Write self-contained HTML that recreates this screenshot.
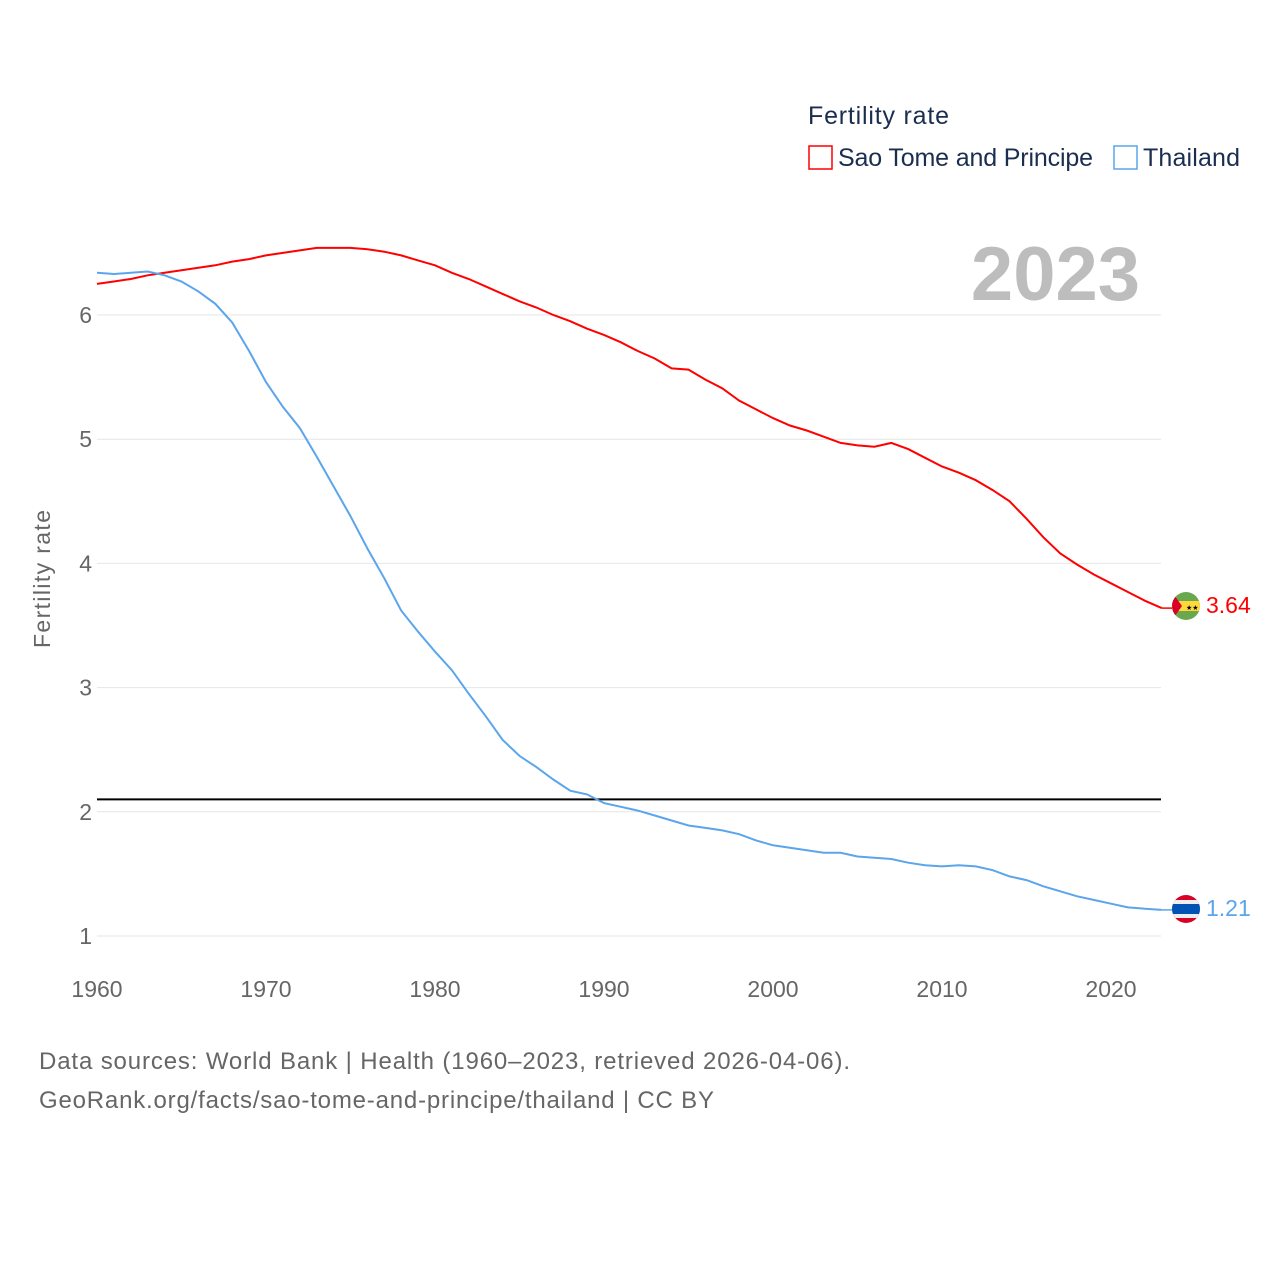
<!DOCTYPE html>
<html><head><meta charset="utf-8">
<style>
body{margin:0;background:#fff;font-family:"Liberation Sans",sans-serif;}
svg text{font-family:"Liberation Sans",sans-serif;}
</style></head>
<body>
<svg id="chart" width="1280" height="1280" viewBox="0 0 1280 1280" xmlns="http://www.w3.org/2000/svg">
<defs>
<clipPath id="c1"><circle cx="1186" cy="606" r="14"/></clipPath>
<clipPath id="c2"><circle cx="1186" cy="909" r="14"/></clipPath>
</defs>
<text x="808" y="124" font-size="25" fill="#1a2e4f" textLength="141">Fertility rate</text>
<g>
<rect x="809" y="146" width="23" height="23" fill="none" stroke="#f00" stroke-width="1.5"/>
<text x="838" y="166" font-size="25" fill="#1a2e4f" textLength="255">Sao Tome and Principe</text></g>
<g>
<rect x="1114" y="146" width="23" height="23" fill="none" stroke="#5aa5ec" stroke-width="1.5"/>
<text x="1143" y="166" font-size="25" fill="#1a2e4f" textLength="97">Thailand</text></g>
<text x="1140" y="300" font-size="76" font-weight="bold" fill="#bdbdbd" text-anchor="end">2023</text>
<text transform="translate(50,579) rotate(-90)" font-size="23" fill="#666" text-anchor="middle" textLength="138">Fertility rate</text>
<g id="grid"></g><g id="series"></g>
<g clip-path="url(#c1)">
<rect x="1172" y="592" width="28" height="28" fill="#6aa84f"/>
<rect x="1172" y="601" width="28" height="10" fill="#ffd93b"/>
<polygon points="1172,592 1182,606 1172,620" fill="#d80027"/>
<text x="1186" y="610" font-size="7">★★</text></g>
<g clip-path="url(#c2)">
<rect x="1172" y="895" width="28" height="28" fill="#d80027"/>
<rect x="1172" y="900" width="28" height="18" fill="#eee"/>
<rect x="1172" y="904" width="28" height="10" fill="#0052b4"/></g>
<text x="1206" y="613" font-size="23" fill="#f00">3.64</text>
<text x="1206" y="916" font-size="23" fill="#5aa5ec">1.21</text>
<text x="39" y="1069" font-size="24" fill="#666" textLength="811">Data sources: World Bank | Health (1960–2023, retrieved 2026-04-06).</text>
<text x="39" y="1108" font-size="24" fill="#666" textLength="675">GeoRank.org/facts/sao-tome-and-principe/thailand | CC BY</text>
</svg>
<script>
const years=[];for(let y=1960;y<=2023;y++)years.push(y);
const saoTome=[6.25,6.27,6.29,6.32,6.34,6.36,6.38,6.40,6.43,6.45,6.48,6.50,6.52,6.54,6.54,6.54,6.53,6.51,6.48,6.44,6.40,6.34,6.29,6.23,6.17,6.11,6.06,6.00,5.95,5.89,5.84,5.78,5.71,5.65,5.57,5.56,5.48,5.41,5.31,5.24,5.17,5.11,5.07,5.02,4.97,4.95,4.94,4.97,4.92,4.85,4.78,4.73,4.67,4.59,4.50,4.36,4.21,4.08,3.99,3.91,3.84,3.77,3.70,3.64];
const thailand=[6.34,6.33,6.34,6.35,6.32,6.27,6.19,6.09,5.94,5.71,5.46,5.26,5.09,4.86,4.62,4.38,4.12,3.88,3.62,3.45,3.29,3.14,2.95,2.77,2.58,2.45,2.36,2.26,2.17,2.14,2.07,2.04,2.01,1.97,1.93,1.89,1.87,1.85,1.82,1.77,1.73,1.71,1.69,1.67,1.67,1.64,1.63,1.62,1.59,1.57,1.56,1.57,1.56,1.53,1.48,1.45,1.40,1.36,1.32,1.29,1.26,1.23,1.22,1.21];
const yTicks=[1,2,3,4,5,6];
const xTicks=[1960,1970,1980,1990,2000,2010,2020];
const replacement=2.1;
const NS="http://www.w3.org/2000/svg";
const xS=y=>97+(y-1960)*(1111-97)/60;
const yS=v=>936-(v-1)*124.2;
const grid=document.getElementById('grid'),ser=document.getElementById('series');
function mk(tag,attrs,parent){const e=document.createElementNS(NS,tag);for(const k in attrs)e.setAttribute(k,attrs[k]);parent.appendChild(e);return e;}
yTicks.forEach(t=>{
 const l=mk('line',{x1:97,x2:1161,y1:yS(t),y2:yS(t),stroke:'#e6e6e6','stroke-width':1},grid);
 
 
 const tx=mk('text',{x:92,y:yS(t)+8,'font-size':23,fill:'#666','text-anchor':'end'},grid);tx.textContent=t;
 
 
});
xTicks.forEach(t=>{
 const tx=mk('text',{x:xS(t),y:997,'font-size':23,fill:'#666','text-anchor':'middle'},grid);tx.textContent=t;
 
 
});
const rl=mk('line',{x1:97,x2:1161,y1:yS(replacement),y2:yS(replacement),stroke:'#000','stroke-width':2},grid);


function line(data,color,name){
 const d=data.map((v,i)=>(i?'L':'M')+xS(years[i]).toFixed(1)+','+yS(v).toFixed(1)).join('');
 const p=mk('path',{d:d,fill:'none',stroke:color,'stroke-width':2},ser);
 
 
 const n=data.length-1;
 mk('line',{x1:xS(years[n]),x2:1172,y1:yS(data[n]),y2:yS(data[n]),stroke:color,'stroke-width':1.5},ser);
}
line(saoTome,'#f00','line-sao-tome');
line(thailand,'#5aa5ec','line-thailand');
</script>
</body></html>
